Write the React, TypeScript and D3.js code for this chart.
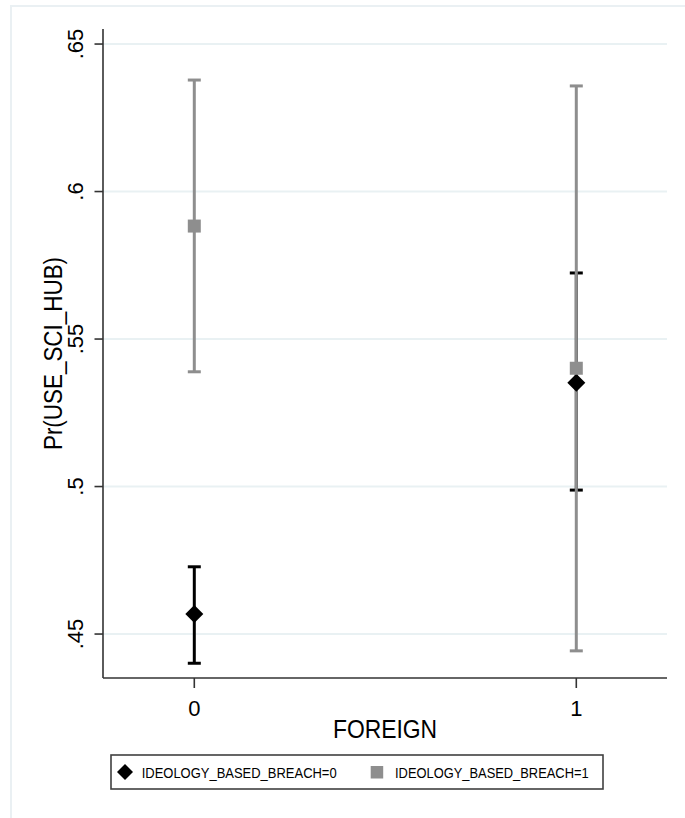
import React from "react";
import * as d3 from "d3";

const categories = [0, 1];
const yTicks = [0.45, 0.5, 0.55, 0.6, 0.65];
const yTickLabels = [".45", ".5", ".55", ".6", ".65"];
const seriesNames = ["IDEOLOGY_BASED_BREACH=0", "IDEOLOGY_BASED_BREACH=1"];
const est0 = [0.4568, 0.5352];
const lo0 = [0.4401, 0.4988];
const hi0 = [0.4728, 0.5724];
const est1 = [0.5883, 0.5401];
const lo1 = [0.5389, 0.4443];
const hi1 = [0.6378, 0.6358];

const W = 685;
const H = 818;
const FONT = "'Liberation Sans', Arial, sans-serif";
const GRAY = "#8e8e8e";

export default function App() {
  const left = 103, right = 667, top = 29, bottom = 678;
  const y = d3.scaleLinear().domain([0.4351, 0.6551]).range([bottom, top]);
  const x = d3.scaleLinear().domain([0, 1]).range([194.3, 576.3]);

  const series = [
    { est: est0, lo: lo0, hi: hi0, color: "#000000", lw: 3 },
    { est: est1, lo: lo1, hi: hi1, color: GRAY, lw: 3 },
  ];
  const capHalf = 6.5;
  const diamond = (cx: number, cy: number, r: number) =>
    `M${cx},${cy - r}L${cx + r},${cy}L${cx},${cy + r}L${cx - r},${cy}Z`;

  return (
    <svg width={W} height={H} style={{ position: "absolute", left: 0, top: 0 }} fontFamily={FONT}>
      <rect x={0} y={0} width={W} height={H} fill="#ffffff" />
      <rect x={11} y={6} width={W + 10} height={H + 10} fill="none" stroke="#eaf0f3" strokeWidth={2} />
      {/* gridlines */}
      {yTicks.map((t) => (
        <line key={"g" + t} x1={left} x2={right} y1={y(t)} y2={y(t)} stroke="#e9f1f3" strokeWidth={2} />
      ))}
      {/* axes */}
      <line x1={left} x2={left} y1={top} y2={bottom} stroke="#333" strokeWidth={1.6} />
      <line x1={left} x2={right} y1={bottom} y2={bottom} stroke="#333" strokeWidth={1.6} />
      {yTicks.map((t, i) => (
        <g key={"yt" + t}>
          <line x1={left - 8.5} x2={left} y1={y(t)} y2={y(t)} stroke="#333" strokeWidth={1.6} />
          <text
            transform={`translate(83,${y(t)}) rotate(-90)`}
            textAnchor="middle"
            fontSize={22}
            fill="#000"
          >
            {yTickLabels[i]}
          </text>
        </g>
      ))}
      {categories.map((c) => (
        <g key={"xt" + c}>
          <line x1={x(c)} x2={x(c)} y1={bottom} y2={bottom + 10} stroke="#333" strokeWidth={1.6} />
          <text x={x(c)} y={716} textAnchor="middle" fontSize={22} fill="#000">
            {String(c)}
          </text>
        </g>
      ))}
      <text transform={`translate(${(left + right) / 2},738.3) scale(0.88,1)`} textAnchor="middle" fontSize={26} fill="#000">
        FOREIGN
      </text>
      <text
        transform={`translate(61.5,${(top + bottom) / 2}) rotate(-90) scale(0.88,1)`}
        textAnchor="middle"
        fontSize={25.5}
        fill="#000"
      >
        Pr(USE_SCI_HUB)
      </text>
      {/* CIs */}
      {series.map((s, si) =>
        categories.map((c, i) => (
          <g key={`ci${si}-${c}`} stroke={s.color} strokeWidth={s.lw}>
            <line x1={x(c)} x2={x(c)} y1={y(s.lo[i])} y2={y(s.hi[i])} />
            <line x1={x(c) - capHalf} x2={x(c) + capHalf} y1={y(s.lo[i])} y2={y(s.lo[i])} />
            <line x1={x(c) - capHalf} x2={x(c) + capHalf} y1={y(s.hi[i])} y2={y(s.hi[i])} />
          </g>
        ))
      )}
      {/* markers */}
      {categories.map((c, i) => (
        <path key={"d" + c} d={diamond(x(c), y(est0[i]), 9)} fill="#000" />
      ))}
      {categories.map((c, i) => (
        <rect key={"s" + c} x={x(c) - 6.5} y={y(est1[i]) - 6.5} width={13} height={13} fill={GRAY} />
      ))}
      {/* legend */}
      <rect x={111} y={755} width={492} height={34} fill="#fff" stroke="#404040" strokeWidth={1.6} />
      <path d={diamond(125, 772, 8)} fill="#000" />
      <text transform="translate(141.7,777.5) scale(0.865,1)" fontSize={15} fill="#000">
        {seriesNames[0]}
      </text>
      <rect x={370.7} y={766} width={12.5} height={12.5} fill={GRAY} />
      <text transform="translate(395,777.5) scale(0.86,1)" fontSize={15} fill="#000">
        {seriesNames[1]}
      </text>
    </svg>
  );
}
